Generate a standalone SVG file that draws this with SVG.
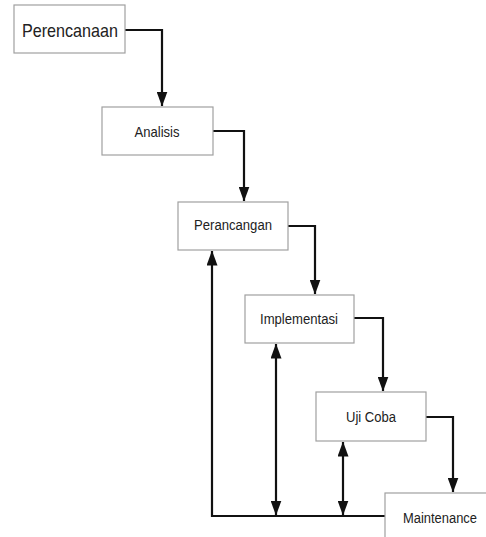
<svg xmlns="http://www.w3.org/2000/svg" width="486" height="537" viewBox="0 0 486 537">
<style>
.box{fill:#fff;stroke:#a0a0a0;stroke-width:1.2}
.lbl{font-family:"Liberation Sans",Arial,sans-serif;fill:#222;text-anchor:middle}
.con{fill:none;stroke:#111;stroke-width:2.2}
</style>
<defs>
<marker id="ah" markerUnits="userSpaceOnUse" markerWidth="15" markerHeight="11" viewBox="0 0 15 11" refX="14.5" refY="5.5" orient="auto-start-reverse">
<path d="M0,0 L15,5.5 L0,11 Z" fill="#111"/>
</marker>
</defs>
<g id="connectors">
<path class="con" d="M125,30 H162 V106" marker-end="url(#ah)"/>
<path class="con" d="M213,131 H244 V201" marker-end="url(#ah)"/>
<path class="con" d="M288,226 H315 V294" marker-end="url(#ah)"/>
<path class="con" d="M354,318 H383 V391" marker-end="url(#ah)"/>
<path class="con" d="M426,417 H453 V492" marker-end="url(#ah)"/>
<path class="con" d="M386,516 H212 V251" marker-end="url(#ah)"/>
<path class="con" d="M276,344 V515" marker-start="url(#ah)" marker-end="url(#ah)"/>
<path class="con" d="M343,442 V515" marker-start="url(#ah)" marker-end="url(#ah)"/>
</g>
<g id="perencanaan">
<rect class="box" x="14" y="5" width="111" height="48"/>
<text class="lbl" x="70" y="37" font-size="19" textLength="96" lengthAdjust="spacingAndGlyphs">Perencanaan</text>
</g>
<g id="analisis">
<rect class="box" x="102" y="107" width="111" height="48"/>
<text class="lbl" x="157" y="137" font-size="15" textLength="45" lengthAdjust="spacingAndGlyphs">Analisis</text>
</g>
<g id="perancangan">
<rect class="box" x="178" y="202" width="110" height="48"/>
<text class="lbl" x="233" y="230" font-size="15.5" textLength="78" lengthAdjust="spacingAndGlyphs">Perancangan</text>
</g>
<g id="implementasi">
<rect class="box" x="245" y="295" width="109" height="48"/>
<text class="lbl" x="299" y="324" font-size="15.5" textLength="78" lengthAdjust="spacingAndGlyphs">Implementasi</text>
</g>
<g id="ujicoba">
<rect class="box" x="316" y="392" width="110" height="49"/>
<text class="lbl" x="371" y="422" font-size="15.5" textLength="50" lengthAdjust="spacingAndGlyphs">Uji Coba</text>
</g>
<g id="maintenance">
<rect class="box" x="385" y="493" width="115" height="60"/>
<text class="lbl" x="440" y="523" font-size="15.5" textLength="74" lengthAdjust="spacingAndGlyphs">Maintenance</text>
</g>
</svg>
